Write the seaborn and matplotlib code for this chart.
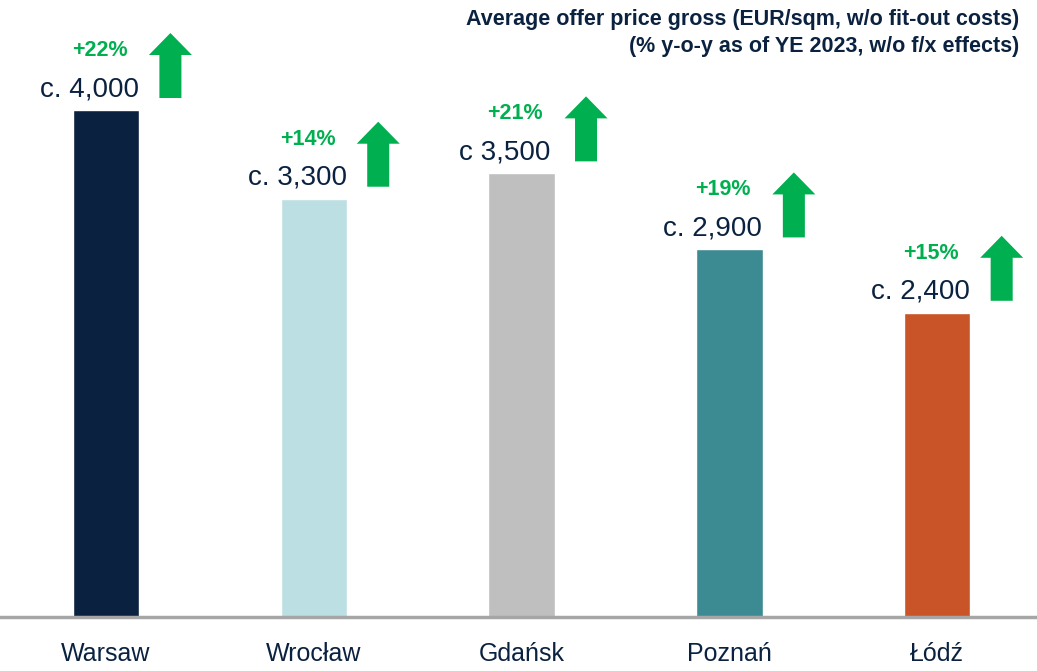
import matplotlib
matplotlib.use("Agg")
import matplotlib.pyplot as plt
from matplotlib import font_manager
import seaborn as sns

# データ
cities = ["Warsaw", "Wrocław", "Gdańsk", "Poznań", "Łódź"]
prices = [4000, 3300, 3500, 2900, 2400]
price_labels = ["c. 4,000", "c. 3,300", "c 3,500", "c. 2,900", "c. 2,400"]
yoy_labels = ["+22%", "+14%", "+21%", "+19%", "+15%"]
bar_colors = ["#0A2240", "#BCDFE3", "#BFBFBF", "#3D8B92", "#C95428"]

NAVY = "#0A2240"
GREEN = "#00B050"

sns.set_theme(style="white")
names = {f.name for f in font_manager.fontManager.ttflist}
main_font = "Liberation Sans Narrow" if "Liberation Sans Narrow" in names else "Liberation Sans"
plt.rcParams["font.family"] = [main_font, "DejaVu Sans"]

fig = plt.figure(figsize=(10.37, 6.71), dpi=100)
ax = fig.add_axes([0.0, 54 / 671, 1.0, 617 / 671])

sns.barplot(x=cities, y=prices, hue=cities, palette=bar_colors, legend=False,
            width=0.32, saturation=1, ax=ax)

px = 4000 / 507  # 1px in data units (y)
ax.set_ylim(0, 617 * px)
ax.set_xlim(-0.51, 4.48)

for i, (v, lab, pct) in enumerate(zip(prices, price_labels, yoy_labels)):
    # 値ラベル
    ax.text(i - 0.08, v + 14 * px, lab, ha="center", va="baseline",
            fontsize=20, color=NAVY)
    # 前年比
    ax.text(i - 0.03, v + 54 * px, pct, ha="center", va="baseline",
            fontsize=15.5, fontweight="bold", color=GREEN)
    # 上向き矢印
    ax.arrow(i + 0.31, v + 12 * px, 0, 65 * px, width=0.106, head_width=0.207,
             head_length=22 * px, length_includes_head=True,
             color=GREEN, linewidth=0)

for s in ["top", "right", "left"]:
    ax.spines[s].set_visible(False)
ax.spines["bottom"].set_color("#A6A6A6")
ax.spines["bottom"].set_linewidth(2.5)
ax.set_yticks([])
ax.tick_params(axis="x", length=0, pad=18, labelsize=18, labelcolor=NAVY)
ax.set_xlabel("")
ax.set_ylabel("")

fig.text(0.983, 1 - 52 / 671, "Average offer price gross (EUR/sqm, w/o fit-out costs)\n"
         "(% y-o-y as of YE 2023, w/o f/x effects)",
         ha="right", va="baseline", fontsize=15.5, fontweight="bold", color=NAVY,
         linespacing=1.4)

fig.savefig("out.png", dpi=100)
